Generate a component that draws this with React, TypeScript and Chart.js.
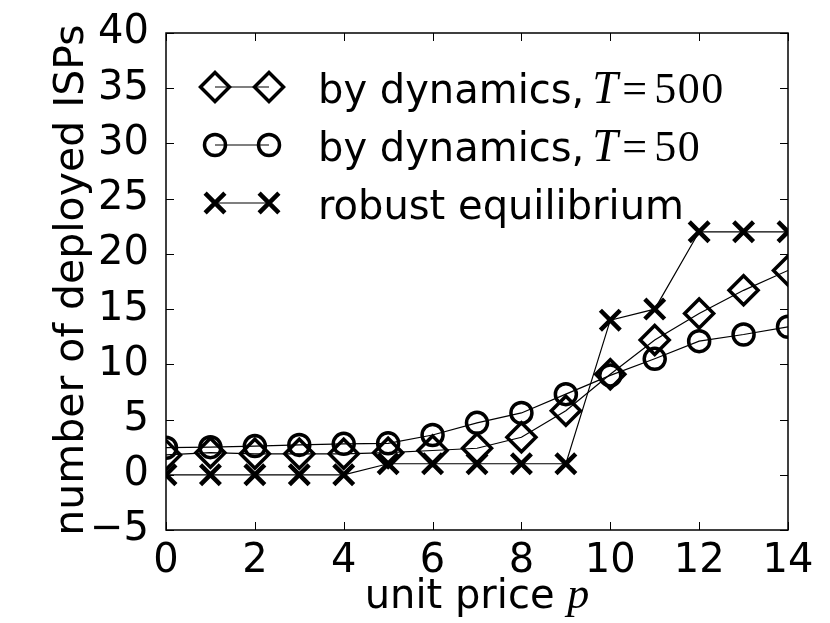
import React, { useEffect, useRef } from "react";
import { Chart, registerables } from "chart.js";

Chart.register(...registerables);

// ---- data ----
const prices = [0, 1, 2, 3, 4, 5, 6, 7, 8, 9, 10, 11, 12, 13, 14];
const dynamicsT500 = [1.8, 2.0, 1.9, 1.9, 1.9, 2.0, 2.2, 2.4, 3.4, 5.8, 9.1, 12.2, 14.6, 16.7, 18.5];
const dynamicsT50 = [2.45, 2.5, 2.6, 2.7, 2.8, 2.85, 3.6, 4.7, 5.6, 7.3, 9.0, 10.5, 12.1, 12.7, 13.4];
const robustEquilibrium = [0, 0, 0, 0, 0, 1, 1, 1, 1, 1, 14, 15, 22, 22, 22];
const xTickValues = [0, 2, 4, 6, 8, 10, 12, 14];
const yTickValues = [-5, 0, 5, 10, 15, 20, 25, 30, 35, 40];
const legendLabels = [
  { text: "by dynamics,", math: "500", style: "diamond" },
  { text: "by dynamics,", math: "50", style: "circle" },
  { text: "robust equilibrium", math: null, style: "cross" },
];

const SANS = '"DejaVu Sans", sans-serif';
const SERIF = '"Liberation Serif", serif';
const FONT_SIZE = 40;
const DIAMOND_R = 14.5;
const CIRCLE_R = 10.5;
const CROSS_R = 14;

function drawMarker(ctx: CanvasRenderingContext2D, style: string, x: number, y: number) {
  ctx.save();
  ctx.strokeStyle = "#000";
  ctx.beginPath();
  if (style === "diamond") {
    ctx.lineWidth = 3.5;
    const r = DIAMOND_R;
    ctx.moveTo(x - r, y);
    ctx.lineTo(x, y - r);
    ctx.lineTo(x + r, y);
    ctx.lineTo(x, y + r);
    ctx.closePath();
  } else if (style === "circle") {
    ctx.lineWidth = 3.5;
    ctx.arc(x, y, CIRCLE_R, 0, Math.PI * 2);
  } else {
    ctx.lineWidth = 4.5;
    const r = CROSS_R * Math.SQRT1_2;
    ctx.moveTo(x - r, y - r);
    ctx.lineTo(x + r, y + r);
    ctx.moveTo(x + r, y - r);
    ctx.lineTo(x - r, y + r);
  }
  ctx.stroke();
  ctx.restore();
}

const framePlugin = {
  id: "frame",
  afterDatasetsDraw(chart: any) {
    const { ctx, chartArea } = chart;
    const { left, right, top, bottom } = chartArea;
    const xs = chart.scales.x;
    const ys = chart.scales.y;
    ctx.save();
    ctx.strokeStyle = "#000";
    ctx.lineWidth = 1.5;
    ctx.strokeRect(left, top, right - left, bottom - top);
    ctx.lineWidth = 1;
    const tl = 8;
    ctx.beginPath();
    for (const v of xTickValues) {
      const px = Math.round(xs.getPixelForValue(v)) + 0.5;
      ctx.moveTo(px, bottom);
      ctx.lineTo(px, bottom - tl);
      ctx.moveTo(px, top);
      ctx.lineTo(px, top + tl);
    }
    for (const v of yTickValues) {
      const py = Math.round(ys.getPixelForValue(v)) + 0.5;
      ctx.moveTo(left, py);
      ctx.lineTo(left + tl, py);
      ctx.moveTo(right, py);
      ctx.lineTo(right - tl, py);
    }
    ctx.stroke();
    ctx.restore();
  },
  afterDraw(chart: any) {
    const { ctx, chartArea } = chart;
    ctx.save();
    // legend
    const markerY = [87, 145, 203];
    const baseY = [103, 161, 219];
    legendLabels.forEach((item, i) => {
      const y = markerY[i];
      const m1 = 215;
      const m2 = 269;
      ctx.strokeStyle = "#000";
      ctx.lineWidth = 1.2;
      ctx.beginPath();
      ctx.moveTo(m1, y);
      ctx.lineTo(m2, y);
      ctx.stroke();
      drawMarker(ctx, item.style, m1, y);
      drawMarker(ctx, item.style, m2, y);
      ctx.fillStyle = "#000";
      ctx.textBaseline = "alphabetic";
      ctx.textAlign = "left";
      ctx.font = `${FONT_SIZE}px ${SANS}`;
      let x = 318;
      ctx.fillText(item.text, x, baseY[i]);
      x += ctx.measureText(item.text).width;
      if (item.math) {
        x += 8;
        ctx.font = `italic 46px ${SERIF}`;
        ctx.fillText("T", x, baseY[i]);
        x += 30;
        ctx.font = `44px ${SERIF}`;
        ctx.fillText("=", x, baseY[i]);
        x += 32;
        for (const ch of item.math) {
          ctx.fillText(ch, x, baseY[i]);
          x += 23.5;
        }
      }
    });
    // x axis title
    const cx = (chartArea.left + chartArea.right) / 2;
    ctx.textBaseline = "alphabetic";
    ctx.textAlign = "left";
    ctx.font = `${FONT_SIZE}px ${SANS}`;
    const t1 = "unit price ";
    const w1 = ctx.measureText(t1).width;
    ctx.font = `italic 44px ${SERIF}`;
    const w2 = ctx.measureText("p").width;
    const sx = cx - (w1 + w2) / 2;
    ctx.font = `${FONT_SIZE}px ${SANS}`;
    ctx.fillText(t1, sx, 608);
    ctx.font = `italic 44px ${SERIF}`;
    ctx.fillText("p", sx + w1, 608);
    // y axis title
    ctx.save();
    ctx.translate(72, 280);
    ctx.rotate(-Math.PI / 2);
    ctx.font = `41px ${SANS}`;
    ctx.textAlign = "center";
    ctx.textBaseline = "middle";
    ctx.fillText("number of deployed ISPs", 0, 0);
    ctx.restore();
    ctx.restore();
  },
};

export default function App() {
  const ref = useRef<HTMLCanvasElement>(null);
  useEffect(() => {
    if (!ref.current) return;
    const mk = (arr: number[]) => prices.map((p, i) => ({ x: p, y: arr[i] }));
    const common = {
      borderColor: "#000",
      borderWidth: 1.2,
      backgroundColor: "rgba(0,0,0,0)",
      pointBorderColor: "#000",
      pointBackgroundColor: "rgba(0,0,0,0)",
      tension: 0,
      clip: 0,
    };
    const chart = new Chart(ref.current, {
      type: "line",
      data: {
        datasets: [
          { ...common, label: "T=500", data: mk(dynamicsT500), pointStyle: "rectRot", pointRadius: DIAMOND_R, pointBorderWidth: 3.5 },
          { ...common, label: "T=50", data: mk(dynamicsT50), pointStyle: "circle", pointRadius: CIRCLE_R, pointBorderWidth: 3.5 },
          { ...common, label: "robust equilibrium", data: mk(robustEquilibrium), pointStyle: "crossRot", pointRadius: CROSS_R, pointBorderWidth: 4.5 },
        ],
      },
      options: {
        animation: false,
        responsive: false,
        maintainAspectRatio: false,
        layout: { padding: { top: 30, right: 42, left: 0, bottom: 0 } },
        plugins: { legend: { display: false }, tooltip: { enabled: false } },
        scales: {
          x: {
            type: "linear",
            min: 0,
            max: 14,
            grid: { display: false },
            border: { display: false },
            afterBuildTicks: (s: any) => { s.ticks = xTickValues.map((v) => ({ value: v })); },
            afterFit: (s: any) => { s.height = 93; },
            ticks: { color: "#000", font: { family: SANS, size: FONT_SIZE }, padding: 0, maxRotation: 0, autoSkip: false },
          },
          y: {
            type: "linear",
            min: -5,
            max: 40,
            grid: { display: false },
            border: { display: false },
            afterBuildTicks: (s: any) => { s.ticks = yTickValues.map((v) => ({ value: v })); },
            afterFit: (s: any) => { s.width = 166; },
            ticks: {
              color: "#000",
              font: { family: SANS, size: FONT_SIZE },
              padding: 9,
              autoSkip: false,
              callback: (v: any) => String(v).replace("-", "\u2212"),
            },
          },
        },
      },
      plugins: [framePlugin],
    });
    return () => chart.destroy();
  }, []);
  return (
    <div style={{ position: "absolute", left: 0, top: 0, width: 830, height: 623, background: "#fff" }}>
      <canvas ref={ref} width={830} height={623} />
    </div>
  );
}
